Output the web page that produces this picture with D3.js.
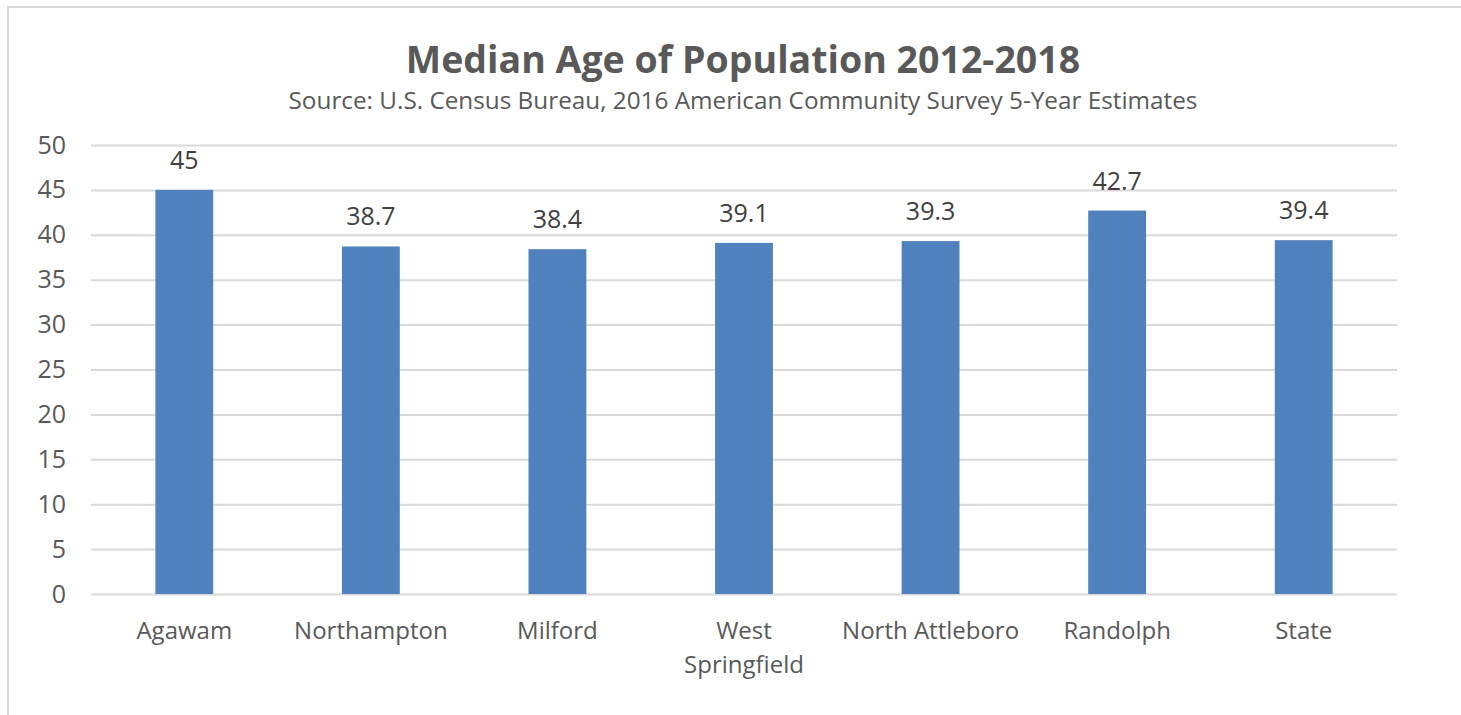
<!DOCTYPE html>
<html>
<head>
<meta charset="utf-8">
<script src="https://cdn.jsdelivr.net/npm/d3@7"></script>
<style>
  html, body { margin: 0; padding: 0; background: #fff; }
  text { font-family: "Open Sans", Lato, sans-serif; }
</style>
</head>
<body>
<div id="viz-1"></div>
<script>
const containerId = 'viz-1';

// données
const categories = ["Agawam", "Northampton", "Milford", "West Springfield", "North Attleboro", "Randolph", "State"];
const medianAge = [45, 38.7, 38.4, 39.1, 39.3, 42.7, 39.4];
const yTicks = [0, 5, 10, 15, 20, 25, 30, 35, 40, 45, 50];
const titleText = "Median Age of Population 2012-2018";
const subtitleText = "Source: U.S. Census Bureau, 2016 American Community Survey 5-Year Estimates";

const FONT = '"Open Sans", Lato, sans-serif';

function main() {
  const width = 1461;
  const height = 715;
  const margin = { top: 145, right: 64, bottom: 121, left: 91 };
  const innerWidth = width - margin.left - margin.right;
  const innerHeight = height - margin.top - margin.bottom;

  const svg = d3.select('#' + containerId).append('svg')
    .attr('width', width)
    .attr('height', height);

  // cadre
  svg.append('path')
    .attr('d', `M8,${height} L8,7 L${width},7`)
    .attr('fill', 'none')
    .attr('stroke', '#d9d9d9')
    .attr('stroke-width', 2);

  svg.append('text')
    .attr('x', 743).attr('y', 73)
    .attr('text-anchor', 'middle')
    .attr('font-size', 37.5).attr('font-weight', 'bold')
    .attr('fill', '#595959')
    .text(titleText);

  svg.append('text')
    .attr('x', 743).attr('y', 109)
    .attr('text-anchor', 'middle')
    .attr('font-size', 24.3)
    .attr('fill', '#595959')
    .text(subtitleText);

  const g = svg.append('g').attr('transform', `translate(${margin.left},${margin.top})`);

  const x = d3.scaleBand().domain(categories).range([0, innerWidth]).padding(0);
  const y = d3.scaleLinear().domain([0, 50]).range([innerHeight, 0]);
  const barWidth = x.bandwidth() * 0.31;

  // grille + axe Y
  const yAxis = g.append('g')
    .call(d3.axisLeft(y).tickValues(yTicks).tickSize(-innerWidth).tickPadding(25));
  yAxis.select('.domain').remove();
  yAxis.selectAll('line').attr('stroke', '#d9d9d9').attr('stroke-width', 2);
  yAxis.selectAll('text')
    .attr('font-size', 25).attr('fill', '#595959')
    .style('font-family', FONT);

  // barres
  g.selectAll('rect.bar').data(medianAge).enter().append('rect')
    .attr('class', 'bar')
    .attr('x', (d, i) => x(categories[i]) + (x.bandwidth() - barWidth) / 2)
    .attr('y', d => y(d))
    .attr('width', barWidth)
    .attr('height', d => innerHeight - y(d))
    .attr('fill', '#4f81bd');

  // étiquettes
  g.selectAll('text.val').data(medianAge).enter().append('text')
    .attr('class', 'val')
    .attr('x', (d, i) => x(categories[i]) + x.bandwidth() / 2)
    .attr('y', d => y(d) - 21)
    .attr('text-anchor', 'middle')
    .attr('font-size', 25).attr('fill', '#404040')
    .text(d => d);

  // axe X
  const xAxis = g.append('g')
    .attr('transform', `translate(0,${innerHeight})`)
    .call(d3.axisBottom(x).tickSize(0).tickPadding(0));
  xAxis.select('.domain').remove();
  xAxis.selectAll('text').each(function(d) {
    const t = d3.select(this);
    t.text(null).attr('y', 0).attr('dy', null)
      .attr('font-size', 24).attr('fill', '#595959')
      .style('font-family', FONT);
    const lines = d === "West Springfield" ? ["West", "Springfield"] : [d];
    lines.forEach((l, k) => {
      t.append('tspan').attr('x', 0).attr('y', 45 + k * 34).text(l);
    });
  });
}

main();
</script>
</body>
</html>
